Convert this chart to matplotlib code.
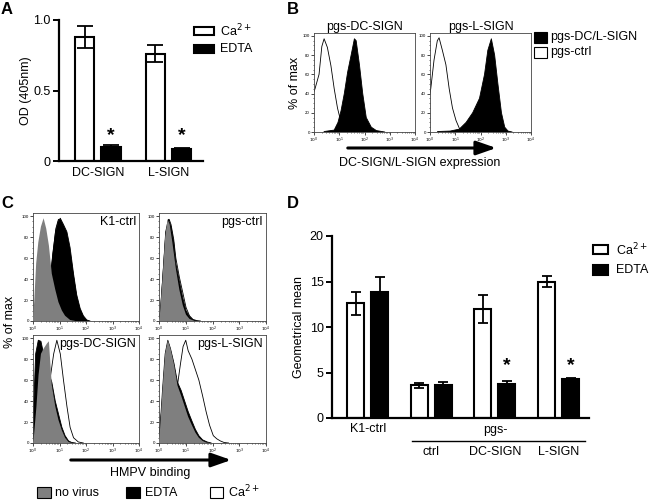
import numpy as np
import matplotlib
matplotlib.use('Agg')
import matplotlib.pyplot as plt
from matplotlib.patches import Rectangle, FancyArrowPatch
from matplotlib.lines import Line2D
import matplotlib.transforms as mtransforms
from matplotlib.ticker import LogLocator, NullFormatter, MultipleLocator

plt.rcParams['font.family'] = ['Liberation Sans', 'DejaVu Sans']

# ---- panel A data ----
a_groups = ['DC-SIGN', 'L-SIGN']
a_ca = [0.88, 0.76]
a_ca_err = [0.08, 0.06]
a_edta = [0.10, 0.086]
a_edta_err = [0.01, 0.003]

# ---- panel D data ----
d_groups = ['K1-ctrl', 'ctrl', 'DC-SIGN', 'L-SIGN']
d_ca = [12.6, 3.6, 12.0, 15.0]
d_ca_err = [1.3, 0.25, 1.55, 0.65]
d_edta = [13.8, 3.65, 3.75, 4.3]
d_edta_err = [1.65, 0.3, 0.3, 0.05]

# ---- panel B histograms (log10 fluorescence, % of max) ----
b_dc_ctrl_x = [0, 0.04, 0.2, 0.31, 0.4, 0.53, 0.67, 0.8, 0.93, 1.07, 1.2, 1.33]
b_dc_ctrl_y = [42, 45, 60, 89, 97, 88, 69, 45, 25, 10, 2, 0]
b_dc_pos_x = [0.4, 0.8, 0.95, 1.07, 1.2, 1.33, 1.47, 1.6, 1.67, 1.8, 1.93, 2.07, 2.27, 2.47, 2.8]
b_dc_pos_y = [0.5, 2, 10, 22, 40, 62, 80, 97, 95, 70, 40, 15, 5, 1.5, 0]
b_l_ctrl_x = [0, 0.03, 0.16, 0.29, 0.36, 0.49, 0.63, 0.76, 0.89, 1.03, 1.16, 1.29, 1.45]
b_l_ctrl_y = [40, 45, 75, 95, 98, 85, 70, 45, 25, 12, 4, 1, 0]
b_l_pos_x = [0.3, 0.8, 1.16, 1.43, 1.69, 1.96, 2.16, 2.29, 2.43, 2.56, 2.69, 2.83, 2.96, 3.09, 3.25]
b_l_pos_y = [0.5, 1, 3, 10, 20, 35, 60, 85, 97, 80, 50, 20, 5, 1, 0]

# ---- panel C histograms: (no virus, EDTA, Ca2+) per cell line ----
c_k1_novirus_x = [0, 0.05, 0.12, 0.2, 0.3, 0.4, 0.5, 0.6, 0.71, 0.84, 0.96, 1.09, 1.21, 1.4, 1.6]
c_k1_novirus_y = [2, 20, 55, 75, 90, 98, 88, 72, 45, 30, 18, 10, 5, 1, 0]
c_k1_edta_x = [0.3, 0.5, 0.65, 0.75, 0.85, 0.95, 1.03, 1.15, 1.28, 1.4, 1.53, 1.65, 1.78, 1.9, 2.03, 2.15]
c_k1_edta_y = [2, 15, 40, 65, 85, 95, 98, 92, 85, 70, 45, 25, 12, 5, 1, 0]
c_k1_ca_x = [0.3, 0.5, 0.65, 0.78, 0.86, 0.96, 1.05, 1.15, 1.28, 1.4, 1.53, 1.65, 1.78, 1.9, 2.0]
c_k1_ca_y = [2, 15, 40, 70, 88, 97, 94, 88, 80, 65, 42, 22, 10, 4, 0]

c_ctrl_novirus_x = [0, 0.03, 0.13, 0.23, 0.32, 0.4, 0.5, 0.63, 0.76, 0.89, 1.01, 1.14, 1.33]
c_ctrl_novirus_y = [0, 5, 40, 80, 97, 92, 75, 50, 30, 15, 6, 2, 0]
c_ctrl_edta_x = [0, 0.05, 0.15, 0.25, 0.35, 0.45, 0.55, 0.63, 0.76, 0.89, 1.01, 1.14, 1.27, 1.4]
c_ctrl_edta_y = [0, 8, 45, 85, 97, 90, 75, 55, 38, 22, 10, 4, 1, 0]
c_ctrl_ca_x = [0, 0.05, 0.15, 0.25, 0.38, 0.45, 0.55, 0.63, 0.76, 0.89, 1.01, 1.14, 1.27, 1.4, 1.55]
c_ctrl_ca_y = [0, 8, 45, 82, 97, 92, 78, 60, 42, 27, 13, 5, 1.5, 0.5, 0]

c_dc_novirus_x = [0, 0.03, 0.13, 0.21, 0.3, 0.4, 0.53, 0.6, 0.71, 0.84, 0.96, 1.09, 1.21, 1.34, 1.46]
c_dc_novirus_y = [0, 5, 35, 65, 85, 90, 95, 97, 55, 35, 22, 12, 5, 1, 0]
c_dc_edta_x = [0, 0.05, 0.1, 0.2, 0.3, 0.4, 0.55, 0.71, 0.84, 0.96, 1.09, 1.21, 1.34, 1.46, 1.6]
c_dc_edta_y = [15, 50, 85, 98, 97, 85, 70, 58, 40, 28, 15, 7, 2, 0.5, 0]
c_dc_ca_x = [0, 0.2, 0.4, 0.55, 0.65, 0.78, 0.9, 1.03, 1.15, 1.28, 1.4, 1.53, 1.71, 1.9]
c_dc_ca_y = [5, 30, 45, 55, 62, 85, 98, 85, 60, 35, 15, 5, 1, 0]

c_l_novirus_x = [0, 0.03, 0.13, 0.23, 0.33, 0.43, 0.56, 0.69, 0.83, 0.96, 1.09, 1.23, 1.36, 1.49, 1.63, 1.76, 1.9]
c_l_novirus_y = [0, 10, 50, 85, 98, 90, 75, 55, 45, 35, 25, 17, 10, 5, 2, 0.5, 0]
c_l_edta_x = [0, 0.03, 0.13, 0.23, 0.33, 0.43, 0.56, 0.69, 0.83, 0.96, 1.09, 1.23, 1.36, 1.49, 1.63, 1.8, 1.95]
c_l_edta_y = [0, 10, 50, 85, 98, 90, 76, 58, 50, 40, 30, 21, 13, 7, 3, 1, 0]
c_l_ca_x = [0, 0.13, 0.33, 0.56, 0.69, 0.8, 0.9, 1.0, 1.09, 1.23, 1.36, 1.49, 1.63, 1.76, 1.89, 2.03, 2.16, 2.29, 2.43, 2.6]
c_l_ca_y = [5, 40, 60, 50, 55, 75, 92, 98, 88, 80, 70, 60, 45, 30, 17, 7, 4, 2, 0.5, 0]

W, H = 650, 501
GREY = '#7f7f7f'
FS = 9


def rect(l, t, r, b):
    return [l / W, 1 - b / H, (r - l) / W, (b - t) / H]


def fx(x):
    return x / W


def fy(y):
    return 1 - y / H


fig = plt.figure(figsize=(6.5, 5.01), dpi=100)


def box(l, t, r, b, fc, lw=1.2):
    fig.add_artist(Rectangle((fx(l), fy(b)), (r - l) / W, (b - t) / H,
                             transform=fig.transFigure, facecolor=fc,
                             edgecolor='black', linewidth=lw))


def label(x, y, s, **kw):
    kw.setdefault('fontsize', FS)
    kw.setdefault('va', 'center')
    fig.text(fx(x), fy(y), s, **kw)


def arrow(x0, x1, y):
    fig.add_artist(FancyArrowPatch((fx(x0), fy(y)), (fx(x1), fy(y)),
                                   transform=fig.transFigure,
                                   arrowstyle='-|>,head_length=0.8,head_width=0.28',
                                   mutation_scale=15, linewidth=2.2, color='black'))


def bar_axes(ax, ylim, yticks, yticklabels):
    for s in ['top', 'right']:
        ax.spines[s].set_visible(False)
    for s in ['left', 'bottom']:
        ax.spines[s].set_linewidth(1.6)
    ax.set_ylim(*ylim)
    ax.set_yticks(yticks)
    ax.set_yticklabels(yticklabels, fontsize=FS)
    ax.tick_params(axis='y', direction='out', length=4, width=1.4, pad=2)
    ax.tick_params(axis='x', length=0, pad=4)


def flow_axes(ax):
    ax.set_xscale('log')
    ax.set_xlim(1, 1e4)
    ax.set_ylim(0, 103)
    ax.set_xticks([1, 10, 100, 1000, 10000])
    ax.set_xticklabels(['$10^{%d}$' % i for i in range(5)], fontsize=3.2)
    ax.xaxis.set_minor_locator(LogLocator(base=10, subs=np.arange(2, 10), numticks=20))
    ax.xaxis.set_minor_formatter(NullFormatter())
    ax.set_yticks([0, 20, 40, 60, 80, 100])
    ax.set_yticklabels(['0', '20', '40', '60', '80', '100'], fontsize=3.2)
    ax.yaxis.set_minor_locator(MultipleLocator(5))
    ax.tick_params(which='major', length=2, width=0.5, pad=1, direction='out')
    ax.tick_params(which='minor', length=1, width=0.4, direction='out')
    for s in ax.spines.values():
        s.set_linewidth(0.6)
        s.set_color('#444444')


def hist(ax, xs, ys, fc, z, lw=0.6):
    x = 10 ** np.array(xs)
    ax.fill_between(x, ys, 0, facecolor=fc, edgecolor='none', zorder=z)
    if lw:
        ax.plot(x, ys, color='black', lw=lw, zorder=z + 0.1)


# ================= Panel A =================
axA = fig.add_axes(rect(59, 20, 203, 161))
xa = np.arange(len(a_groups))
off, bw = 0.187, 0.27
axA.bar(xa - off, a_ca, bw, color='white', edgecolor='black', linewidth=1.5, zorder=2)
axA.bar(xa + off, a_edta, bw, color='black', edgecolor='black', linewidth=1.5, zorder=2)
axA.errorbar(xa - off, a_ca, yerr=a_ca_err, fmt='none', ecolor='black', elinewidth=1.3,
             capsize=5.5, capthick=1.3, zorder=3)
axA.errorbar(xa + off, a_edta, yerr=a_edta_err, fmt='none', ecolor='black', elinewidth=1.3,
             capsize=5.5, capthick=1.3, zorder=3)
for i in range(len(a_groups)):
    axA.text(xa[i] + off, 0.12, '*', ha='center', va='bottom', fontsize=14, fontweight='bold')
axA.set_xlim(-0.548, 1.488)
axA.set_xticks(xa)
axA.set_xticklabels(a_groups, fontsize=FS)
bar_axes(axA, (0, 1.0), [0, 0.5, 1.0], ['0', '0.5', '1.0'])
axA.set_ylabel('OD (405nm)', fontsize=FS, labelpad=1)

box(194, 27, 214, 35, 'white', 1.5)
box(194, 45, 214, 53, 'black', 1.5)
label(220, 31, 'Ca$^{2+}$')
label(220, 49, 'EDTA')

# ================= Panel B =================
axB1 = fig.add_axes(rect(314, 33, 415, 132))
hist(axB1, b_dc_ctrl_x, b_dc_ctrl_y, 'white', 1)
hist(axB1, b_dc_pos_x, b_dc_pos_y, 'black', 2)
flow_axes(axB1)
axB1.set_title('pgs-DC-SIGN', fontsize=FS, pad=2)
axB1.set_ylabel('% of max', fontsize=FS, labelpad=1)

axB2 = fig.add_axes(rect(430, 33, 531, 132))
hist(axB2, b_l_ctrl_x, b_l_ctrl_y, 'white', 1)
hist(axB2, b_l_pos_x, b_l_pos_y, 'black', 2)
flow_axes(axB2)
axB2.set_title('pgs-L-SIGN', fontsize=FS, pad=2)

arrow(345, 499, 148)
label(420, 163, 'DC-SIGN/L-SIGN expression', ha='center')
box(534, 32, 547, 43, 'black', 0.8)
box(534, 47, 547, 58, 'white', 0.8)
label(550, 37, 'pgs-DC/L-SIGN')
label(550, 52, 'pgs-ctrl')

# ================= Panel C =================
c_panels = [
    ((33, 213, 139, 321), 'K1-ctrl',
     (c_k1_novirus_x, c_k1_novirus_y), (c_k1_edta_x, c_k1_edta_y), (c_k1_ca_x, c_k1_ca_y)),
    ((159, 213, 266, 321), 'pgs-ctrl',
     (c_ctrl_novirus_x, c_ctrl_novirus_y), (c_ctrl_edta_x, c_ctrl_edta_y), (c_ctrl_ca_x, c_ctrl_ca_y)),
    ((33, 335, 139, 443), 'pgs-DC-SIGN',
     (c_dc_novirus_x, c_dc_novirus_y), (c_dc_edta_x, c_dc_edta_y), (c_dc_ca_x, c_dc_ca_y)),
    ((159, 335, 266, 443), 'pgs-L-SIGN',
     (c_l_novirus_x, c_l_novirus_y), (c_l_edta_x, c_l_edta_y), (c_l_ca_x, c_l_ca_y)),
]
for r, name, nv, ed, ca in c_panels:
    ax = fig.add_axes(rect(*r))
    hist(ax, ca[0], ca[1], 'white', 1)
    hist(ax, ed[0], ed[1], 'black', 2)
    hist(ax, nv[0], nv[1], GREY, 3, lw=0)
    flow_axes(ax)
    ax.text(0.97, 0.92, name, transform=ax.transAxes, ha='right', va='center', fontsize=FS,
            zorder=5)

label(10, 322, '% of max', rotation=90, ha='center')
arrow(68, 234, 460)
label(150, 473, 'HMPV binding', ha='center')
box(37, 487, 51, 498, GREY, 0.8)
label(55, 492.5, 'no virus')
box(126, 487, 140, 498, 'black', 0.8)
label(145, 492.5, 'EDTA')
box(210, 487, 223, 498, 'white', 0.8)
label(228, 492.5, 'Ca$^{2+}$')

# ================= Panel D =================
axD = fig.add_axes(rect(332, 236, 589, 418))
xd = np.arange(len(d_groups))
doff, dbw = 0.189, 0.267
axD.bar(xd - doff, d_ca, dbw, color='white', edgecolor='black', linewidth=1.5, zorder=2)
axD.bar(xd + doff, d_edta, dbw, color='black', edgecolor='black', linewidth=1.5, zorder=2)
axD.errorbar(xd - doff, d_ca, yerr=d_ca_err, fmt='none', ecolor='black', elinewidth=1.3,
             capsize=3.3, capthick=1.3, zorder=3)
axD.errorbar(xd + doff, d_edta, yerr=d_edta_err, fmt='none', ecolor='black', elinewidth=1.3,
             capsize=3.3, capthick=1.3, zorder=3)
for i in [2, 3]:
    axD.text(xd[i] + doff, 4.8, '*', ha='center', va='bottom', fontsize=14, fontweight='bold')
axD.set_xlim(-0.562, 3.479)
axD.set_xticks([])
bar_axes(axD, (0, 20), [0, 5, 10, 15, 20], ['0', '5', '10', '15', '20'])
axD.set_ylabel('Geometrical mean', fontsize=FS, labelpad=3)

tD = mtransforms.blended_transform_factory(axD.transData, fig.transFigure)
fig.text(xd[0], fy(429), d_groups[0], transform=tD, ha='center', va='center', fontsize=FS)
fig.text(2.0, fy(430), 'pgs-', transform=tD, ha='center', va='center', fontsize=FS)
fig.add_artist(Line2D([fx(412), fx(585)], [fy(441), fy(441)], transform=fig.transFigure,
                      color='black', linewidth=1.0))
for i in [1, 2, 3]:
    fig.text(xd[i], fy(452), d_groups[i], transform=tD, ha='center', va='center', fontsize=FS)

box(593, 245, 608, 254, 'white', 1.5)
box(593, 265, 608, 275, 'black', 1.5)
label(616, 249.5, 'Ca$^{2+}$')
label(616, 270, 'EDTA')

# ---- panel letters ----
for s, x, y in [('A', 1, 10), ('B', 287, 10), ('C', 1, 203), ('D', 287, 203)]:
    label(x, y, s, fontsize=12, fontweight='bold')

plt.savefig('out.png', dpi=100)
